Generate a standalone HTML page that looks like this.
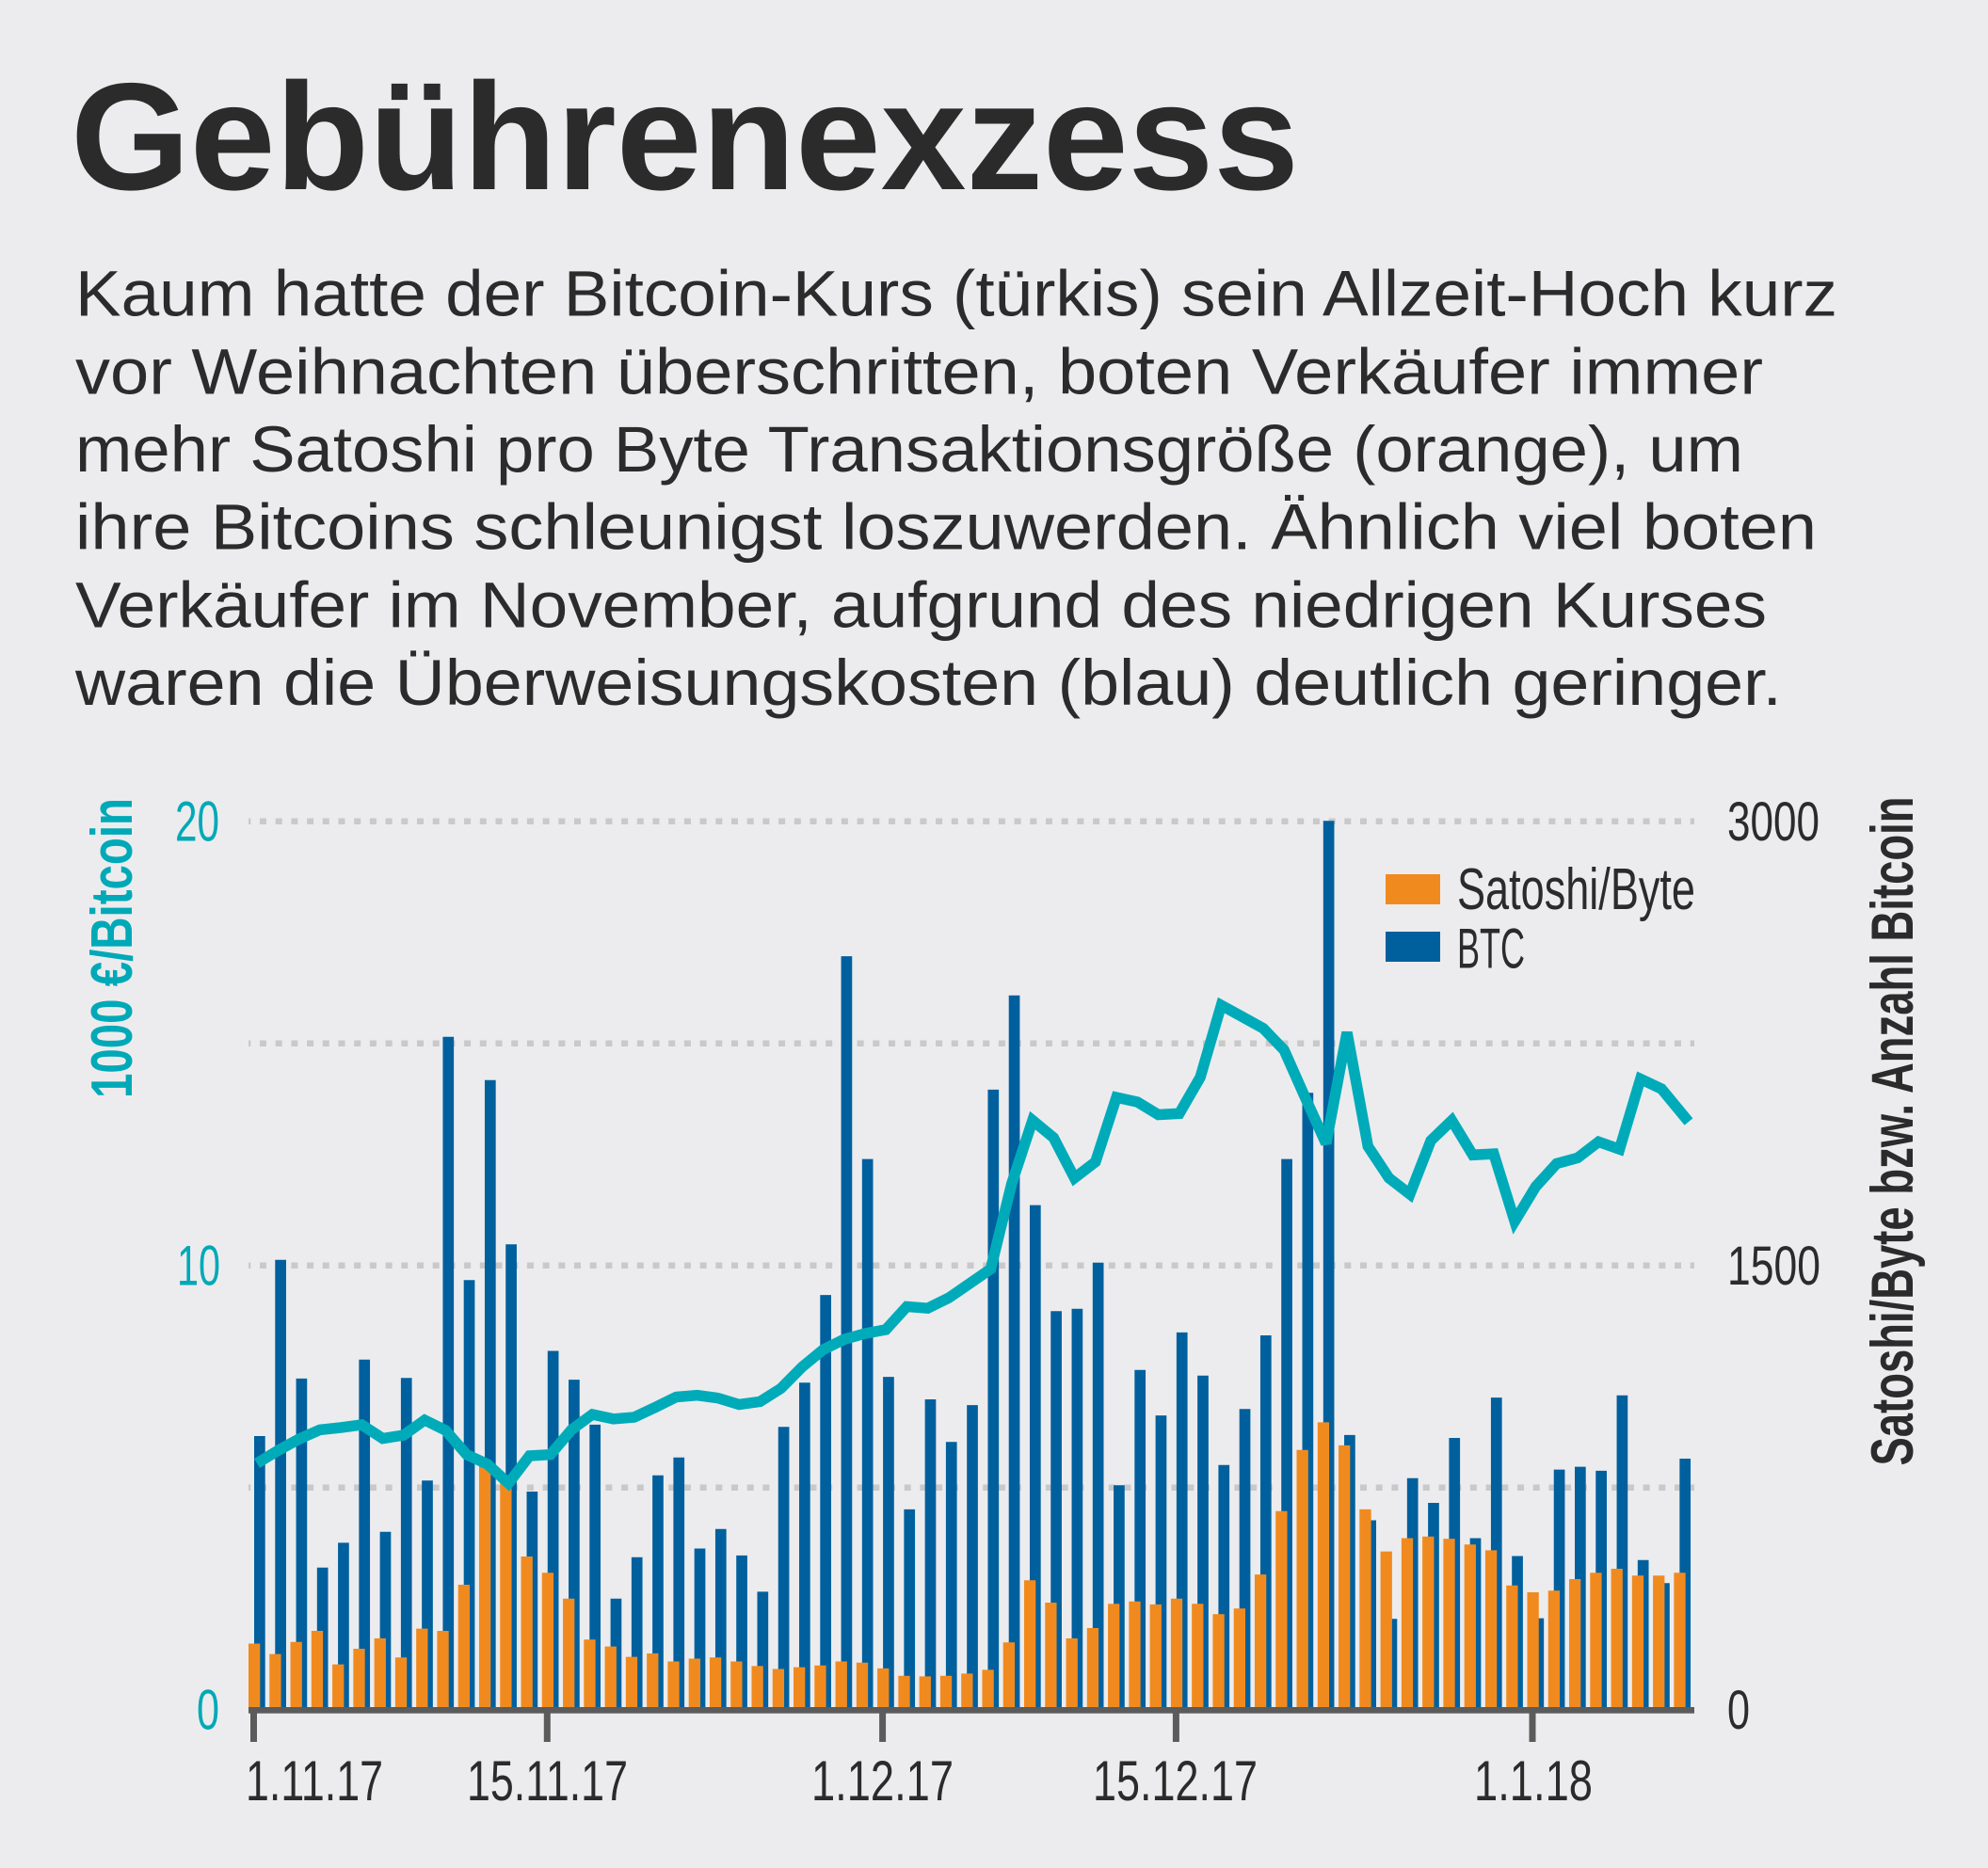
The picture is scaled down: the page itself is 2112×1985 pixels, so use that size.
<!DOCTYPE html>
<html><head><meta charset="utf-8"><style>
html,body{margin:0;padding:0;background:#ececee;}
svg{display:block;}
text{font-family:"Liberation Sans",sans-serif;}
</style></head><body>
<svg width="2112" height="1985" viewBox="0 0 2112 1985" xmlns="http://www.w3.org/2000/svg">
<rect x="0" y="0" width="2112" height="1985" fill="#ececee"/>
<text x="75" y="201" font-size="162" font-weight="bold" fill="#2b2b2b" textLength="1305" lengthAdjust="spacingAndGlyphs">Gebührenexzess</text>
<g font-size="69" fill="#2b2b2b">
<text x="80" y="335.5" textLength="1872" lengthAdjust="spacingAndGlyphs">Kaum hatte der Bitcoin-Kurs (türkis) sein Allzeit-Hoch kurz</text>
<text x="80" y="418.5" textLength="1793" lengthAdjust="spacingAndGlyphs">vor Weihnachten überschritten, boten Verkäufer immer</text>
<text x="80" y="501" textLength="1772" lengthAdjust="spacingAndGlyphs">mehr Satoshi pro Byte Transaktionsgröße (orange), um</text>
<text x="80" y="583.7" textLength="1850" lengthAdjust="spacingAndGlyphs">ihre Bitcoins schleunigst loszuwerden. Ähnlich viel boten</text>
<text x="80" y="666.3" textLength="1797" lengthAdjust="spacingAndGlyphs">Verkäufer im November, aufgrund des niedrigen Kurses</text>
<text x="80" y="749" textLength="1813" lengthAdjust="spacingAndGlyphs">waren die Überweisungskosten (blau) deutlich geringer.</text>
</g>
<g stroke="#c9c9c9" stroke-width="6.5" stroke-dasharray="7 9.7" stroke-dashoffset="4.7">
<line x1="264" y1="872.7" x2="1800" y2="872.7"/>
<line x1="264" y1="1108.7" x2="1800" y2="1108.7"/>
<line x1="264" y1="1344.7" x2="1800" y2="1344.7"/>
<line x1="264" y1="1580.7" x2="1800" y2="1580.7"/>
</g>
<path fill="#00609e" d="M270 1526h11.7V1817h-11.7z M292.27 1338.8h11.7V1817h-11.7z M314.54 1464.9h11.7V1817h-11.7z M336.81 1665.7h11.7V1817h-11.7z M359.08 1639.4h11.7V1817h-11.7z M381.35 1444.7h11.7V1817h-11.7z M403.62 1627.8h11.7V1817h-11.7z M425.89 1464.3h11.7V1817h-11.7z M448.16 1573.3h11.7V1817h-11.7z M470.43 1101.8h11.7V1817h-11.7z M492.7 1360.2h11.7V1817h-11.7z M514.97 1147.8h11.7V1817h-11.7z M537.24 1322.2h11.7V1817h-11.7z M559.51 1585h11.7V1817h-11.7z M581.78 1435.5h11.7V1817h-11.7z M604.05 1466.1h11.7V1817h-11.7z M626.32 1513.9h11.7V1817h-11.7z M648.59 1698.8h11.7V1817h-11.7z M670.86 1654.7h11.7V1817h-11.7z M693.13 1567.8h11.7V1817h-11.7z M715.4 1548.8h11.7V1817h-11.7z M737.67 1645.5h11.7V1817h-11.7z M759.94 1624.7h11.7V1817h-11.7z M782.21 1652.9h11.7V1817h-11.7z M804.48 1691.4h11.7V1817h-11.7z M826.75 1516.3h11.7V1817h-11.7z M849.02 1469.2h11.7V1817h-11.7z M871.29 1376.1h11.7V1817h-11.7z M893.56 1016.1h11.7V1817h-11.7z M915.83 1231.6h11.7V1817h-11.7z M938.1 1463.1h11.7V1817h-11.7z M960.37 1603.9h11.7V1817h-11.7z M982.64 1487h11.7V1817h-11.7z M1004.91 1532.3h11.7V1817h-11.7z M1027.18 1493.1h11.7V1817h-11.7z M1049.45 1157.9h11.7V1817h-11.7z M1071.72 1057.8h11.7V1817h-11.7z M1093.99 1280.6h11.7V1817h-11.7z M1116.26 1393.3h11.7V1817h-11.7z M1138.53 1390.8h11.7V1817h-11.7z M1160.8 1341.8h11.7V1817h-11.7z M1183.07 1578.2h11.7V1817h-11.7z M1205.34 1455.7h11.7V1817h-11.7z M1227.61 1504.1h11.7V1817h-11.7z M1249.88 1415.9h11.7V1817h-11.7z M1272.15 1461.8h11.7V1817h-11.7z M1294.42 1556.7h11.7V1817h-11.7z M1316.69 1497.3h11.7V1817h-11.7z M1338.96 1419h11.7V1817h-11.7z M1361.23 1231.6h11.7V1817h-11.7z M1383.5 1161.2h11.7V1817h-11.7z M1405.77 872.2h11.7V1817h-11.7z M1428.04 1524.9h11.7V1817h-11.7z M1450.31 1615.5h11.7V1817h-11.7z M1472.58 1720.2h11.7V1817h-11.7z M1494.85 1570.8h11.7V1817h-11.7z M1517.12 1597h11.7V1817h-11.7z M1539.39 1528h11.7V1817h-11.7z M1561.66 1634.5h11.7V1817h-11.7z M1583.93 1485.1h11.7V1817h-11.7z M1606.2 1653.5h11.7V1817h-11.7z M1628.47 1719.6h11.7V1817h-11.7z M1650.74 1561.6h11.7V1817h-11.7z M1673.01 1558.6h11.7V1817h-11.7z M1695.28 1562.9h11.7V1817h-11.7z M1717.55 1482.7h11.7V1817h-11.7z M1739.82 1657.8h11.7V1817h-11.7z M1762.09 1682.3h11.7V1817h-11.7z M1784.36 1550h11.7V1817h-11.7z"/>
<path fill="#f18a1e" d="M264 1746.5h12.3V1817h-12.3z M286.27 1757.6h12.3V1817h-12.3z M308.54 1744.7h12.3V1817h-12.3z M330.81 1733h12.3V1817h-12.3z M353.08 1768.6h12.3V1817h-12.3z M375.35 1752h12.3V1817h-12.3z M397.62 1741h12.3V1817h-12.3z M419.89 1761.2h12.3V1817h-12.3z M442.16 1730.6h12.3V1817h-12.3z M464.43 1733h12.3V1817h-12.3z M486.7 1684h12.3V1817h-12.3z M508.97 1558h12.3V1817h-12.3z M531.24 1575h12.3V1817h-12.3z M553.51 1654h12.3V1817h-12.3z M575.78 1671.2h12.3V1817h-12.3z M598.05 1698.8h12.3V1817h-12.3z M620.32 1742.3h12.3V1817h-12.3z M642.59 1749.6h12.3V1817h-12.3z M664.86 1760.6h12.3V1817h-12.3z M687.13 1757h12.3V1817h-12.3z M709.4 1765.5h12.3V1817h-12.3z M731.67 1762.5h12.3V1817h-12.3z M753.94 1761.2h12.3V1817h-12.3z M776.21 1765.5h12.3V1817h-12.3z M798.48 1770.4h12.3V1817h-12.3z M820.75 1773.5h12.3V1817h-12.3z M843.02 1771.6h12.3V1817h-12.3z M865.29 1769.8h12.3V1817h-12.3z M887.56 1765.5h12.3V1817h-12.3z M909.83 1766.7h12.3V1817h-12.3z M932.1 1772.9h12.3V1817h-12.3z M954.37 1780.8h12.3V1817h-12.3z M976.64 1781.4h12.3V1817h-12.3z M998.91 1780.8h12.3V1817h-12.3z M1021.18 1778.4h12.3V1817h-12.3z M1043.45 1774.4h12.3V1817h-12.3z M1065.72 1745.3h12.3V1817h-12.3z M1087.99 1679.2h12.3V1817h-12.3z M1110.26 1703h12.3V1817h-12.3z M1132.53 1741h12.3V1817h-12.3z M1154.8 1730h12.3V1817h-12.3z M1177.07 1704.3h12.3V1817h-12.3z M1199.34 1701.8h12.3V1817h-12.3z M1221.61 1704.9h12.3V1817h-12.3z M1243.88 1698.8h12.3V1817h-12.3z M1266.15 1704.3h12.3V1817h-12.3z M1288.42 1715.3h12.3V1817h-12.3z M1310.69 1709.2h12.3V1817h-12.3z M1332.96 1673.1h12.3V1817h-12.3z M1355.23 1605.7h12.3V1817h-12.3z M1377.5 1540.8h12.3V1817h-12.3z M1399.77 1511.4h12.3V1817h-12.3z M1422.04 1535.9h12.3V1817h-12.3z M1444.31 1603.9h12.3V1817h-12.3z M1466.58 1648.6h12.3V1817h-12.3z M1488.85 1634.5h12.3V1817h-12.3z M1511.12 1632.7h12.3V1817h-12.3z M1533.39 1635.1h12.3V1817h-12.3z M1555.66 1641.2h12.3V1817h-12.3z M1577.93 1647.4h12.3V1817h-12.3z M1600.2 1684.7h12.3V1817h-12.3z M1622.47 1692h12.3V1817h-12.3z M1644.74 1690.2h12.3V1817h-12.3z M1667.01 1678h12.3V1817h-12.3z M1689.28 1671.2h12.3V1817h-12.3z M1711.55 1667h12.3V1817h-12.3z M1733.82 1674.3h12.3V1817h-12.3z M1756.09 1674.3h12.3V1817h-12.3z M1778.36 1671.2h12.3V1817h-12.3z"/>
<polyline fill="none" stroke="#00abb9" stroke-width="11.5" stroke-linejoin="miter" stroke-miterlimit="3" points="273,1555 295.27,1541.4 317.54,1529.2 339.81,1519.4 362.08,1517 384.35,1514 406.62,1528.6 428.89,1525 451.16,1509 473.43,1520 495.7,1545.7 517.97,1556 540.24,1576.3 562.51,1547 584.78,1545.7 607.05,1519.4 629.32,1503 651.59,1507.8 673.86,1506 696.13,1495.5 718.4,1484.5 740.67,1482.7 762.94,1485.7 785.21,1492.5 807.48,1489.4 829.75,1475.3 852.02,1452.7 874.29,1434.3 896.56,1423.3 918.83,1417.1 941.1,1412.9 963.37,1388.4 985.64,1390.2 1007.91,1379.2 1030.18,1363.9 1052.45,1348.5 1074.72,1258 1096.99,1190.6 1119.26,1209 1141.53,1251.8 1163.8,1234.7 1186.07,1166.1 1208.34,1171 1230.61,1184.5 1252.88,1183.3 1275.15,1144.7 1297.42,1068.2 1319.69,1080.4 1341.96,1092.7 1364.23,1115.9 1386.5,1166.1 1408.77,1215.1 1431.04,1097 1453.31,1218.2 1475.58,1251.8 1497.85,1269 1520.12,1212 1542.39,1190.6 1564.66,1227.3 1586.93,1226.1 1609.2,1297.8 1631.47,1261 1653.74,1236.5 1676.01,1230.4 1698.28,1213.3 1720.55,1221.2 1742.82,1146.5 1765.09,1157 1794,1192"/>
<rect x="264" y="1814" width="1536" height="6.7" fill="#5b5b5b"/>
<g fill="#5b5b5b">
<rect x="266" y="1814" width="7" height="37"/>
<rect x="577.8" y="1814" width="7" height="37"/>
<rect x="934.1" y="1814" width="7" height="37"/>
<rect x="1245.9" y="1814" width="7" height="37"/>
<rect x="1624.5" y="1814" width="7" height="37"/>
</g>
<g font-size="60" fill="#2b2b2b">
<text x="261" y="1913" textLength="146" lengthAdjust="spacingAndGlyphs">1.11.17</text>
<text x="496" y="1913" textLength="171" lengthAdjust="spacingAndGlyphs">15.11.17</text>
<text x="862" y="1913" textLength="151" lengthAdjust="spacingAndGlyphs">1.12.17</text>
<text x="1161" y="1913" textLength="175" lengthAdjust="spacingAndGlyphs">15.12.17</text>
<text x="1566" y="1913" textLength="126" lengthAdjust="spacingAndGlyphs">1.1.18</text>
</g>
<g font-size="60" fill="#00a9b7">
<text x="186" y="893.5" textLength="47" lengthAdjust="spacingAndGlyphs">20</text>
<text x="188" y="1365.5" textLength="46" lengthAdjust="spacingAndGlyphs">10</text>
<text x="209" y="1837.5" textLength="24" lengthAdjust="spacingAndGlyphs">0</text>
</g>
<g font-size="58" fill="#2b2b2b">
<text x="1835" y="893" textLength="98" lengthAdjust="spacingAndGlyphs">3000</text>
<text x="1835" y="1365" textLength="99" lengthAdjust="spacingAndGlyphs">1500</text>
<text x="1835" y="1837" textLength="24" lengthAdjust="spacingAndGlyphs">0</text>
</g>
<text transform="translate(140,1167) rotate(-90)" font-size="62" font-weight="bold" fill="#00a9b7" textLength="319" lengthAdjust="spacingAndGlyphs">1000 €/Bitcoin</text>
<text transform="translate(2032,1557.5) rotate(-90)" font-size="63" font-weight="bold" fill="#2b2b2b" textLength="711" lengthAdjust="spacingAndGlyphs">Satoshi/Byte bzw. Anzahl Bitcoin</text>
<rect x="1472" y="929" width="58" height="32" fill="#f18a1e"/>
<rect x="1472" y="990" width="58" height="32" fill="#00609e"/>
<text x="1548" y="966" font-size="62" fill="#2b2b2b" textLength="253" lengthAdjust="spacingAndGlyphs">Satoshi/Byte</text>
<text x="1548" y="1028.4" font-size="60" fill="#2b2b2b" textLength="72" lengthAdjust="spacingAndGlyphs">BTC</text>
</svg>
</body></html>
